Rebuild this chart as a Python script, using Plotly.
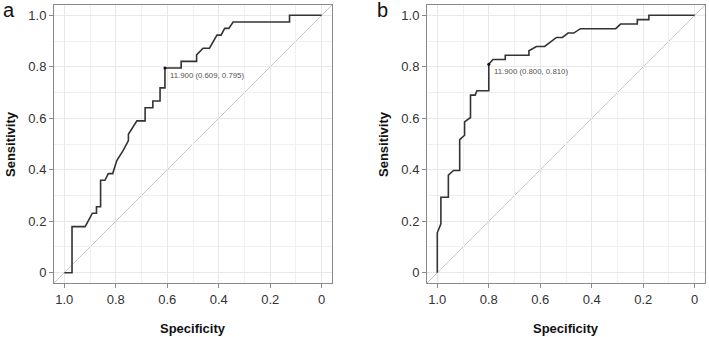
import plotly.graph_objects as go

# Panel a ROC curve (specificity, sensitivity)
spec_a = [1.0, 0.970, 0.970, 0.919, 0.891, 0.875, 0.875, 0.859, 0.859, 0.842, 0.829, 0.812,
          0.796, 0.770, 0.751, 0.751, 0.718, 0.686, 0.686, 0.656, 0.656, 0.628, 0.628,
          0.609, 0.609, 0.546, 0.546, 0.486, 0.486, 0.461, 0.436, 0.407, 0.391, 0.377,
          0.361, 0.344, 0.125, 0.125, 0.0]
sens_a = [0.0, 0.0, 0.179, 0.179, 0.231, 0.231, 0.256, 0.256, 0.359, 0.359, 0.385, 0.385,
          0.436, 0.477, 0.513, 0.538, 0.590, 0.590, 0.641, 0.641, 0.667, 0.667, 0.718,
          0.718, 0.795, 0.795, 0.821, 0.821, 0.846, 0.872, 0.872, 0.923, 0.923, 0.949,
          0.949, 0.974, 0.974, 1.0, 1.0]

# Panel b ROC curve
spec_b = [1.0, 1.0, 0.986, 0.986, 0.957, 0.957, 0.937, 0.913, 0.913, 0.894, 0.894, 0.871,
          0.871, 0.853, 0.846, 0.800, 0.800, 0.784, 0.736, 0.736, 0.644, 0.644, 0.615,
          0.583, 0.537, 0.514, 0.492, 0.470, 0.444, 0.307, 0.288, 0.223, 0.223, 0.178,
          0.178, 0.0]
sens_b = [0.0, 0.155, 0.190, 0.293, 0.293, 0.379, 0.397, 0.397, 0.517, 0.534, 0.586, 0.603,
          0.690, 0.690, 0.707, 0.707, 0.810, 0.828, 0.828, 0.845, 0.845, 0.862, 0.879,
          0.879, 0.914, 0.914, 0.931, 0.931, 0.948, 0.948, 0.966, 0.966, 0.983, 0.983,
          1.0, 1.0]

# Best thresholds
thr_a = (11.900, 0.609, 0.795)
thr_b = (11.900, 0.800, 0.810)

tick_vals = [1.0, 0.8, 0.6, 0.4, 0.2, 0.0]
tick_text = ["1.0", "0.8", "0.6", "0.4", "0.2", "0"]
panel_labels = ["a", "b"]
x_title = "Specificity"
y_title = "Sensitivity"

FONT = "Liberation Sans, Arial, sans-serif"
W, H = 709, 337
fig = go.Figure()

panels = [
    (spec_a, sens_a, thr_a, "x", "y", [54, 332], 9),
    (spec_b, sens_b, thr_b, "x2", "y2", [427, 705], 382),
]

ytop, ybot = 5, 283
ydom = [1 - ybot / H, 1 - ytop / H]

for i, (sx, sy, thr, xa, ya, xpx, lab_x) in enumerate(panels):
    xdom = [xpx[0] / W, xpx[1] / W]
    fig.add_trace(go.Scatter(x=sx, y=sy, mode="lines", xaxis=xa, yaxis=ya,
                             line=dict(color="#333333", width=1.6), showlegend=False,
                             hoverinfo="skip"))
    fig.add_trace(go.Scatter(x=[thr[1]], y=[thr[2]], mode="markers", xaxis=xa, yaxis=ya,
                             marker=dict(color="#111111", size=3), showlegend=False))
    fig.add_annotation(x=thr[1], y=thr[2], xref=xa, yref=ya,
                       text=f"{thr[0]:.3f} ({thr[1]:.3f}, {thr[2]:.3f})",
                       showarrow=False, xanchor="left", yanchor="middle",
                       xshift=3, yshift=-7,
                       font=dict(family=FONT, size=7.8, color="#555555"))
    # identity reference line across the panel
    fig.add_shape(type="line", xref=f"{xa} domain", yref=f"{ya} domain",
                  x0=0, y0=0, x1=1, y1=1, layer="below",
                  line=dict(color="#c8c8c8", width=1))
    axx = "xaxis" if i == 0 else "xaxis2"
    axy = "yaxis" if i == 0 else "yaxis2"
    common = dict(showline=True, mirror=True, linecolor="#8a8a8a", linewidth=1,
                  ticks="outside", ticklen=4, tickcolor="#8a8a8a",
                  tickvals=tick_vals, ticktext=tick_text, automargin=False,
                  showgrid=True, gridcolor="#e8e8e8", gridwidth=1,
                  minor=dict(dtick=0.1, showgrid=True, gridcolor="#f0f0f0", gridwidth=1,
                             ticks=""),
                  zeroline=False,
                  tickfont=dict(family=FONT, size=13, color="#333333"))
    fig.update_layout({
        axx: dict(common, domain=xdom, range=[1.04, -0.04], anchor=ya),
        axy: dict(common, domain=ydom, range=[-0.04, 1.04], anchor=xa),
    })
    # axis titles
    fig.add_annotation(x=(xpx[0] + xpx[1]) / 2 / W, y=1 - 328 / H, xref="paper",
                       yref="paper", text=f"<b>{x_title}</b>", showarrow=False,
                       xanchor="center", yanchor="middle",
                       font=dict(family=FONT, size=13, color="#111111"))
    fig.add_annotation(x=(xpx[0] - 44) / W, y=1 - (ytop + ybot) / 2 / H, xref="paper",
                       yref="paper", text=f"<b>{y_title}</b>", showarrow=False,
                       textangle=-90, xanchor="center", yanchor="middle",
                       font=dict(family=FONT, size=13, color="#111111"))
    fig.add_annotation(x=lab_x / W, y=1 - 10 / H, xref="paper",
                       yref="paper", text=panel_labels[i], showarrow=False,
                       xanchor="center", yanchor="middle",
                       font=dict(family=FONT, size=20, color="#111111"))

fig.update_layout(width=W, height=H, margin=dict(l=0, r=0, t=0, b=0),
                  plot_bgcolor="white", paper_bgcolor="white")
fig.write_html("out.html", config={"displayModeBar": False},
               post_script="document.body.style.margin='0';document.body.style.overflow='hidden';")
